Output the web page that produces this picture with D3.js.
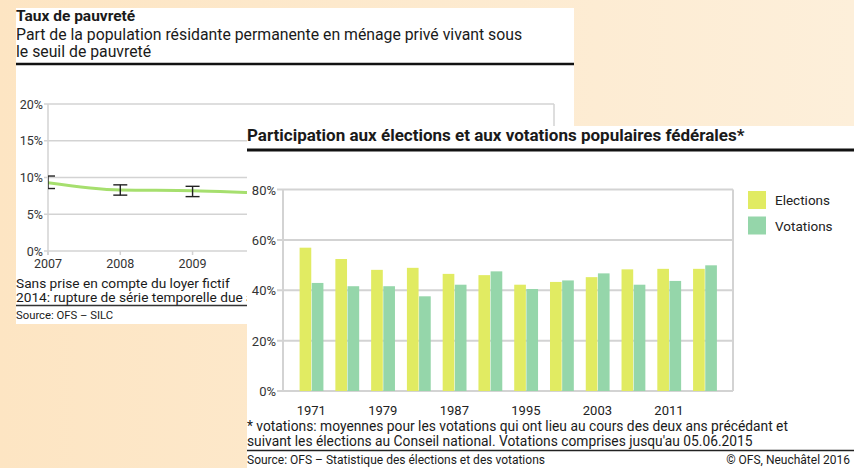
<!DOCTYPE html>
<html>
<head>
<meta charset="utf-8">
<script src="https://cdn.jsdelivr.net/npm/d3@7"></script>
<style>
  html, body { margin: 0; padding: 0; }
  body { width: 854px; height: 468px; overflow: hidden; font-family: Roboto, "Liberation Sans", sans-serif; }
  text { fill: #1a1a1a; }
</style>
</head>
<body>
<svg id="chart" width="854" height="468"></svg>
<script>
// poverty rate (left panel, partly hidden behind the second one)
const povertyYears = [2007, 2008, 2009, 2010, 2011, 2012, 2013, 2014];
const povertyRate  = [9.3, 8.3, 8.2, 7.9, 7.7, 7.7, 5.9, 6.6];
const povertyLow   = [8.5, 7.6, 7.4, 7.2, 7.0, 7.0, 5.3, 6.0];
const povertyHigh  = [10.2, 9.0, 8.8, 8.6, 8.4, 8.4, 6.5, 7.2];
const povertyTicks = [0, 5, 10, 15, 20];

// turnout (right panel)
const electionYears   = ['1971', '1975', '1979', '1983', '1987', '1991', '1995', '1999', '2003', '2007', '2011', '2015'];
const electionTurnout = [56.9, 52.4, 48.1, 48.9, 46.5, 46.0, 42.2, 43.3, 45.2, 48.3, 48.5, 48.5];
const votationTurnout = [42.9, 41.6, 41.6, 37.6, 42.2, 47.5, 40.5, 43.9, 46.7, 42.2, 43.7, 49.9];
const turnoutTicks    = [0, 20, 40, 60, 80];
const yearLabels      = ['1971', '1979', '1987', '1995', '2003', '2011'];
const seriesNames     = ['Elections', 'Votations'];
const seriesColors    = ['#e1eb62', '#95d6aa'];

const svg = d3.select('#chart');
const grid = '#d3d3d3';

// beige backdrop
const defs = svg.append('defs');
const grad = defs.append('linearGradient').attr('id', 'bg').attr('x1', 0).attr('x2', 1);
grad.append('stop').attr('offset', 0).attr('stop-color', '#fde5c3');
grad.append('stop').attr('offset', 1).attr('stop-color', '#fdefda');
svg.append('rect').attr('width', 854).attr('height', 468).attr('fill', 'url(#bg)');

// ---------- left panel ----------
const left = svg.append('g');
left.append('rect').attr('x', 16).attr('y', 8).attr('width', 558).attr('height', 316).attr('fill', '#fff');

left.append('text').attr('x', 16).attr('y', 21)
  .attr('font-weight', 'bold').style('font-size', '15.5px').text('Taux de pauvreté');
left.append('text').attr('x', 16).attr('y', 40).style('font-size', '15.8px')
  .text('Part de la population résidante permanente en ménage privé vivant sous');
left.append('text').attr('x', 16).attr('y', 57).style('font-size', '15.8px')
  .text('le seuil de pauvreté');
left.append('line').attr('x1', 16).attr('x2', 574).attr('y1', 64).attr('y2', 64)
  .attr('stroke', '#111').attr('stroke-width', 2.5);

const px = d3.scaleLinear().domain([2007, 2014]).range([48, 554]);
const py = d3.scaleLinear().domain([0, 20]).range([251, 104]);

defs.append('clipPath').attr('id', 'pclip')
  .append('rect').attr('x', px(2007)).attr('y', py(20)).attr('width', px(2014) - px(2007)).attr('height', py(0) - py(20));

const pGrid = left.append('g');
pGrid.selectAll('line.h')
  .data(povertyTicks)
  .join('line')
    .attr('class', 'h')
    .attr('x1', px(2007) - 4).attr('x2', px(2014))
    .attr('y1', d => py(d)).attr('y2', d => py(d))
    .attr('stroke', grid).attr('stroke-width', 1.5);
pGrid.append('line').attr('x1', px(2007)).attr('x2', px(2007)).attr('y1', py(20)).attr('y2', py(0) + 4)
  .attr('stroke', grid).attr('stroke-width', 1.5);
pGrid.append('line').attr('x1', px(2014)).attr('x2', px(2014)).attr('y1', py(20)).attr('y2', py(0))
  .attr('stroke', grid).attr('stroke-width', 1.5);
pGrid.selectAll('line.xt')
  .data(povertyYears)
  .join('line')
    .attr('class', 'xt')
    .attr('x1', d => px(d)).attr('x2', d => px(d))
    .attr('y1', py(0)).attr('y2', py(0) + 4)
    .attr('stroke', grid).attr('stroke-width', 1.5);

left.selectAll('text.ylab')
  .data(povertyTicks)
  .join('text')
    .attr('class', 'ylab')
    .attr('x', px(2007) - 5).attr('y', d => py(d) + 4.5)
    .attr('text-anchor', 'end').style('font-size', '12.5px').style('fill', '#333')
    .text(d => d + '%');
left.selectAll('text.xlab')
  .data(povertyYears)
  .join('text')
    .attr('class', 'xlab')
    .attr('x', d => px(d)).attr('y', py(0) + 17)
    .attr('text-anchor', 'middle').style('font-size', '12.5px').style('fill', '#333')
    .text(d => d);

const pData = povertyYears.map((y, i) => ({ year: y, v: povertyRate[i], lo: povertyLow[i], hi: povertyHigh[i] }));
const plotArea = left.append('g').attr('clip-path', 'url(#pclip)');
plotArea.append('path')
  .datum(pData)
  .attr('fill', 'none').attr('stroke', '#a6df6e').attr('stroke-width', 3)
  .attr('d', d3.line().x(d => px(d.year)).y(d => py(d.v)).curve(d3.curveMonotoneX));

// error bars, clipped to the plot so the first one only shows its right half
const err = plotArea.append('g').attr('stroke', '#222').attr('stroke-width', 1.4);
err.selectAll('line.v').data(pData).join('line').attr('class', 'v')
  .attr('x1', d => px(d.year)).attr('x2', d => px(d.year))
  .attr('y1', d => py(d.lo)).attr('y2', d => py(d.hi));
err.selectAll('line.t').data(pData).join('line').attr('class', 't')
  .attr('x1', d => px(d.year) - 7).attr('x2', d => px(d.year) + 7)
  .attr('y1', d => py(d.hi)).attr('y2', d => py(d.hi));
err.selectAll('line.b').data(pData).join('line').attr('class', 'b')
  .attr('x1', d => px(d.year) - 7).attr('x2', d => px(d.year) + 7)
  .attr('y1', d => py(d.lo)).attr('y2', d => py(d.lo));

left.append('text').attr('x', 16).attr('y', 288).style('font-size', '13.7px')
  .text('Sans prise en compte du loyer fictif');
left.append('text').attr('x', 16).attr('y', 302).style('font-size', '13.7px')
  .text('2014: rupture de série temporelle due à des changements méthodologiques');
left.append('line').attr('x1', 16).attr('x2', 574).attr('y1', 305.5).attr('y2', 305.5)
  .attr('stroke', '#333').attr('stroke-width', 1.3);
left.append('text').attr('x', 16).attr('y', 319).style('font-size', '11.3px')
  .text('Source: OFS – SILC');

// ---------- right panel ----------
const right = svg.append('g');
right.append('rect').attr('x', 247).attr('y', 126).attr('width', 607).attr('height', 342).attr('fill', '#fff');

right.append('text').attr('x', 247).attr('y', 141)
  .attr('font-weight', 'bold').style('font-size', '17px')
  .text('Participation aux élections et aux votations populaires fédérales*');
right.append('line').attr('x1', 247).attr('x2', 854).attr('y1', 150).attr('y2', 150)
  .attr('stroke', '#111').attr('stroke-width', 3);

const plotL = 283, plotR = 733;
const x0 = d3.scaleBand().domain(electionYears).range([plotL, plotR]).paddingInner(0.32).paddingOuter(0.45);
const x1 = d3.scaleBand().domain(seriesNames).range([0, x0.bandwidth()]);
const y = d3.scaleLinear().domain([0, 80]).range([391, 189.5]);

right.selectAll('line.grid')
  .data(turnoutTicks)
  .join('line')
    .attr('class', 'grid')
    .attr('x1', plotL - 6).attr('x2', plotR)
    .attr('y1', d => y(d)).attr('y2', d => y(d))
    .attr('stroke', grid).attr('stroke-width', 2);
right.append('line').attr('x1', plotL).attr('x2', plotL).attr('y1', y(80)).attr('y2', y(0))
  .attr('stroke', grid).attr('stroke-width', 2);
right.append('line').attr('x1', plotR).attr('x2', plotR).attr('y1', y(80)).attr('y2', y(0))
  .attr('stroke', grid).attr('stroke-width', 2);

right.selectAll('text.ylab')
  .data(turnoutTicks)
  .join('text')
    .attr('class', 'ylab')
    .attr('x', plotL - 7).attr('y', d => y(d) + 5)
    .attr('text-anchor', 'end').style('font-size', '13px').style('fill', '#333')
    .text(d => d + '%');

const groups = right.selectAll('g.year')
  .data(electionYears.map((yr, i) => ({ yr, vals: [electionTurnout[i], votationTurnout[i]] })))
  .join('g')
    .attr('class', 'year')
    .attr('transform', d => `translate(${x0(d.yr)},0)`);
groups.selectAll('rect')
  .data(d => d.vals.map((v, j) => ({ key: seriesNames[j], v, c: seriesColors[j] })))
  .join('rect')
    .attr('x', d => x1(d.key) + 0.5)
    .attr('y', d => y(d.v))
    .attr('width', x1.bandwidth() - 0.5)
    .attr('height', d => y(0) - y(d.v))
    .attr('fill', d => d.c);

right.selectAll('text.xlab')
  .data(yearLabels)
  .join('text')
    .attr('class', 'xlab')
    .attr('x', d => x0(d) + x0.bandwidth() / 2).attr('y', 415)
    .attr('text-anchor', 'middle').style('font-size', '13px').style('fill', '#222')
    .text(d => d);

// legend
const legend = right.selectAll('g.leg')
  .data(seriesNames)
  .join('g')
    .attr('class', 'leg')
    .attr('transform', (d, i) => `translate(748,${191 + i * 25.5})`);
legend.append('rect').attr('width', 18).attr('height', 18).attr('fill', (d, i) => seriesColors[i]);
legend.append('text').attr('x', 27).attr('y', 14).style('font-size', '13.5px').style('fill', '#222').text(d => d);

right.append('text').attr('x', 247).attr('y', 431).style('font-size', '13.8px')
  .text('* votations: moyennes pour les votations qui ont lieu au cours des deux ans précédant et');
right.append('text').attr('x', 247).attr('y', 446).style('font-size', '13.8px')
  .text("suivant les élections au Conseil national. Votations comprises jusqu'au 05.06.2015");
right.append('line').attr('x1', 247).attr('x2', 854).attr('y1', 450.5).attr('y2', 450.5)
  .attr('stroke', '#222').attr('stroke-width', 1.5);
right.append('text').attr('x', 247).attr('y', 464).style('font-size', '12px')
  .text('Source: OFS – Statistique des élections et des votations');
right.append('text').attr('x', 850).attr('y', 464).attr('text-anchor', 'end').style('font-size', '12px')
  .text('© OFS, Neuchâtel 2016');
</script>
</body>
</html>
